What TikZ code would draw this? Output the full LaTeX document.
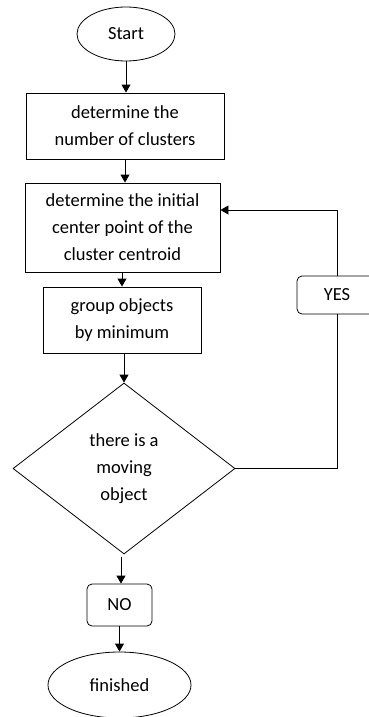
\documentclass[tikz,border=0pt]{standalone}
\usepackage{fontspec}
\setmainfont{Carlito}
\usetikzlibrary{shapes.geometric,arrows.meta}
\begin{document}
\begin{tikzpicture}[x=1pt,y=-1pt,
  every node/.style={font=\fontsize{18.5}{27}\selectfont, align=center, inner sep=0pt},
  procbox/.style={draw, line width=0.9pt, rectangle},
  termnode/.style={draw, line width=0.8pt, ellipse},
  decnode/.style={draw, line width=0.8pt, diamond},
  labelbox/.style={draw, line width=0.8pt, rectangle, rounded corners=5pt},
  link/.style={line width=0.9pt},
  arr/.style={link, -{Triangle[length=8pt,width=9pt]}}]
\useasboundingbox (0,0) rectangle (369,717);
\node[termnode, minimum width=98pt, minimum height=54pt] (start) at (126,34) {Start};
\node[procbox, minimum width=198pt, minimum height=66pt] (b1) at (125,126) {determine the\\number of clusters};
\node[procbox, minimum width=195pt, minimum height=89pt] (b2) at (122.5,227.5) {determine the initial\\center point of the\\cluster centroid};
\node[procbox, minimum width=158pt, minimum height=66pt] (b3) at (122,320) {group objects\\by minimum};
\node[decnode, minimum width=222pt, minimum height=171pt] (dia) at (124,468.5) {\fontsize{18.5}{25.5}\selectfont there is a\\moving\\object};
\node[labelbox, minimum width=80pt, minimum height=38pt] (yes) at (337,295) {YES};
\node[labelbox, minimum width=65pt, minimum height=42pt] (no) at (119.5,605) {NO};
\node[termnode, minimum width=143pt, minimum height=66pt] (fin) at (119.5,685) {finished};
\coordinate (turn) at (337,210);
\coordinate (nostart) at (121,557);
\draw[arr] (start.south) -- (start.south |- b1.north);
\draw[arr] (125,159) -- (b2.north -| 125,0);
\draw[arr] (b2.south -| b3.north) -- (b3.north);
\draw[arr] (b3.south -| dia.north) -- (dia.north);
\draw[link] (dia.east) -| (yes.south);
\draw[link] (yes.north) -- (turn);
\draw[arr] (turn) -- (b2.east |- turn);
\draw[arr] (nostart) -- (nostart |- no.north);
\draw[arr] (no.south) -- (no.south |- fin.north);
\end{tikzpicture}
\end{document}
